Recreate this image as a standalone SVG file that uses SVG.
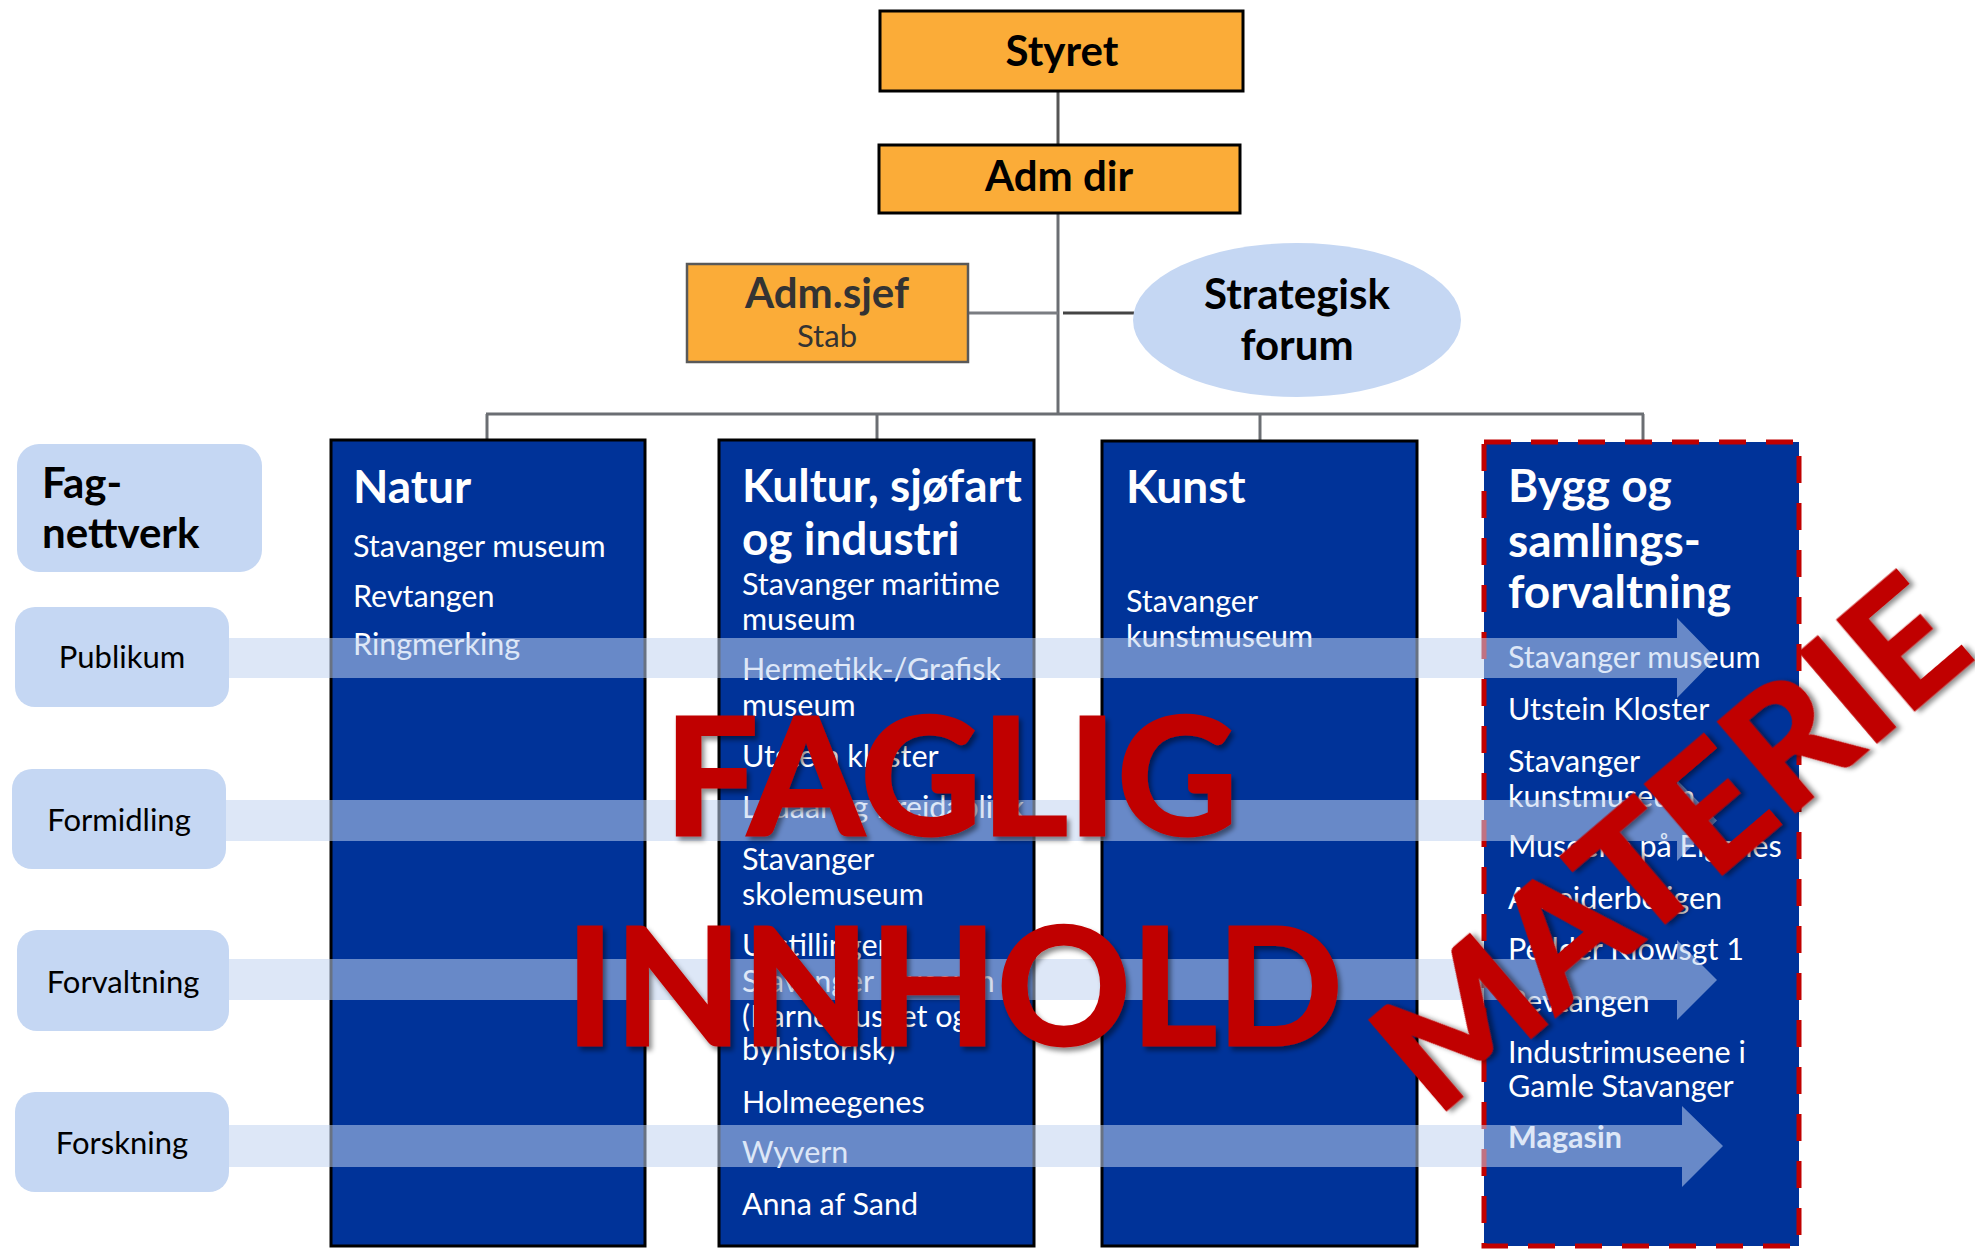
<svg xmlns="http://www.w3.org/2000/svg" width="1975" height="1250" viewBox="0 0 1975 1250">
<defs>
<style>
text{font-family:Lato,"Liberation Sans",sans-serif}
.org{fill:#FBAC38;stroke:#000;stroke-width:3}
.hd{font-weight:bold;font-size:42px;fill:#000;text-anchor:middle}
.lbl{fill:#C5D7F3}
.lt{font-size:31px;fill:#000;text-anchor:middle}
.col{fill:#003399;stroke:#000;stroke-width:3}
.ttl{font-weight:bold;font-size:46px;fill:#fff}
.it{font-size:30.5px;fill:#fff}
.band{fill:#C0D3F0;fill-opacity:0.54}
.line{stroke:#6b6e73;stroke-width:3;fill:none}
.big{font-size:162px;font-weight:bold;fill:#C00000;stroke:#C00000;stroke-width:3;text-anchor:middle;filter:url(#sh)}
</style>
<filter id="sh" x="-10%" y="-10%" width="120%" height="130%">
<feDropShadow dx="3" dy="4" stdDeviation="2.5" flood-color="#000" flood-opacity="0.45"/>
</filter>
</defs>
<rect width="1975" height="1250" fill="#fff"/>

<g id="connectors">
<line class="line" x1="1058" y1="92" x2="1058" y2="144" style="stroke:#555"/>
<line class="line" x1="1058" y1="214" x2="1058" y2="415"/>
<line class="line" x1="969" y1="313" x2="1058" y2="313" style="stroke:#7a7d82"/>
<line class="line" x1="1063" y1="313" x2="1134" y2="313" style="stroke:#444"/>
<line class="line" x1="486" y1="414" x2="1644" y2="414"/>
<line class="line" x1="487" y1="414" x2="487" y2="440"/>
<line class="line" x1="877" y1="414" x2="877" y2="440"/>
<line class="line" x1="1260" y1="414" x2="1260" y2="441"/>
<line class="line" x1="1643" y1="414" x2="1643" y2="441"/>
</g>

<g id="styret">
<rect class="org" x="880" y="11" width="363" height="80"/>
<text class="hd" x="1062" y="66">Styret</text>
</g>
<g id="admdir">
<rect class="org" x="879" y="145" width="361" height="68"/>
<text class="hd" x="1059" y="191">Adm dir</text>
</g>
<g id="admsjef">
<rect x="687" y="264" width="281" height="98" fill="#FBAC38" stroke="#595959" stroke-width="2.5"/>
<text class="hd" x="827" y="308" style="fill:#333">Adm.sjef</text>
<text x="827" y="347" font-size="31" fill="#333" text-anchor="middle">Stab</text>
</g>
<g id="strategisk">
<ellipse cx="1297" cy="320" rx="164" ry="77" fill="#C5D7F3"/>
<text class="hd" x="1297" y="309">Strategisk</text>
<text class="hd" x="1297" y="360">forum</text>
</g>

<g id="fagnettverk">
<rect class="lbl" x="17" y="444" width="245" height="128" rx="22"/>
<text x="42" y="498" font-size="42" font-weight="bold" fill="#000">Fag-</text>
<text x="42" y="548" font-size="42" font-weight="bold" fill="#000">nettverk</text>
</g>
<g id="publikum">
<rect class="lbl" x="15" y="607" width="214" height="100" rx="20"/>
<text class="lt" x="122" y="668">Publikum</text>
</g>
<g id="formidling">
<rect class="lbl" x="12" y="769" width="214" height="100" rx="20"/>
<text class="lt" x="119" y="831">Formidling</text>
</g>
<g id="forvaltning">
<rect class="lbl" x="17" y="930" width="212" height="101" rx="20"/>
<text class="lt" x="123" y="993">Forvaltning</text>
</g>
<g id="forskning">
<rect class="lbl" x="15" y="1092" width="214" height="100" rx="20"/>
<text class="lt" x="122" y="1154">Forskning</text>
</g>

<g id="natur">
<rect class="col" x="331" y="440" width="314" height="806"/>
<text class="ttl" x="353" y="503">Natur</text>
<text class="it" x="353" y="557">Stavanger museum</text>
<text class="it" x="353" y="607">Revtangen</text>
<text class="it" x="353" y="655">Ringmerking</text>
</g>
<g id="kultur">
<rect class="col" x="719" y="440" width="315" height="806"/>
<text class="ttl" x="742" y="502">Kultur, sjøfart</text>
<text class="ttl" x="742" y="555">og industri</text>
<text class="it" x="742" y="595">Stavanger maritime</text>
<text class="it" x="742" y="630">museum</text>
<text class="it" x="742" y="680">Hermetikk-/Grafisk</text>
<text class="it" x="742" y="716">museum</text>
<text class="it" x="742" y="767">Utstein kloster</text>
<text class="it" x="742" y="818">Ledaal og Breidablikk</text>
<text class="it" x="742" y="870">Stavanger</text>
<text class="it" x="742" y="905">skolemuseum</text>
<text class="it" x="742" y="956">Utstillinger</text>
<text class="it" x="742" y="992">Stavanger museum</text>
<text class="it" x="742" y="1027">(Barnemuseet og</text>
<text class="it" x="742" y="1060">byhistorisk)</text>
<text class="it" x="742" y="1113">Holmeegenes</text>
<text class="it" x="742" y="1163">Wyvern</text>
<text class="it" x="742" y="1215">Anna af Sand</text>
</g>
<g id="kunst">
<rect class="col" x="1102" y="441" width="315" height="805"/>
<text class="ttl" x="1126" y="503">Kunst</text>
<text class="it" x="1126" y="612">Stavanger</text>
<text class="it" x="1126" y="647">kunstmuseum</text>
</g>
<g id="bygg">
<rect x="1484" y="442" width="315" height="804" fill="#003399" stroke="#C00000" stroke-width="5" stroke-dasharray="27 20"/>
<text class="ttl" x="1508" y="502">Bygg og</text>
<text class="ttl" x="1508" y="557">samlings-</text>
<text class="ttl" x="1508" y="608">forvaltning</text>
<text class="it" x="1508" y="668">Stavanger museum</text>
<text class="it" x="1508" y="720">Utstein Kloster</text>
<text class="it" x="1508" y="772">Stavanger</text>
<text class="it" x="1508" y="807">kunstmuseum</text>
<text class="it" x="1508" y="857">Museene på Eiganes</text>
<text class="it" x="1508" y="909">Arbeiderboligen</text>
<text class="it" x="1508" y="960">Pedder Klowsgt 1</text>
<text class="it" x="1508" y="1012">Revtangen</text>
<text class="it" x="1508" y="1063">Industrimuseene i</text>
<text class="it" x="1508" y="1097">Gamle Stavanger</text>
<text class="it" x="1508" y="1148" font-weight="bold">Magasin</text>
</g>

<g id="bands">
<path class="band" d="M229,638 H1677 V618 L1716,658 L1677,698 V678 H229 Z"/>
<path class="band" d="M226,800 H1677 V780 L1717,820.5 L1677,861 V841 H226 Z"/>
<path class="band" d="M229,959 H1677 V940 L1717,980 L1677,1020 V1000 H229 Z"/>
<path class="band" d="M229,1125 H1682 V1106 L1723,1146 L1682,1187 V1167 H229 Z"/>
</g>

<g id="stamps">
<text class="big" x="951" y="835" textLength="574" lengthAdjust="spacingAndGlyphs">FAGLIG</text>
<text class="big" x="954" y="1045" textLength="777" lengthAdjust="spacingAndGlyphs">INNHOLD</text>
<text class="big" x="1707" y="887" textLength="712" lengthAdjust="spacingAndGlyphs" transform="rotate(-40.5 1707 887)">MATERIE</text>
</g>
</svg>
